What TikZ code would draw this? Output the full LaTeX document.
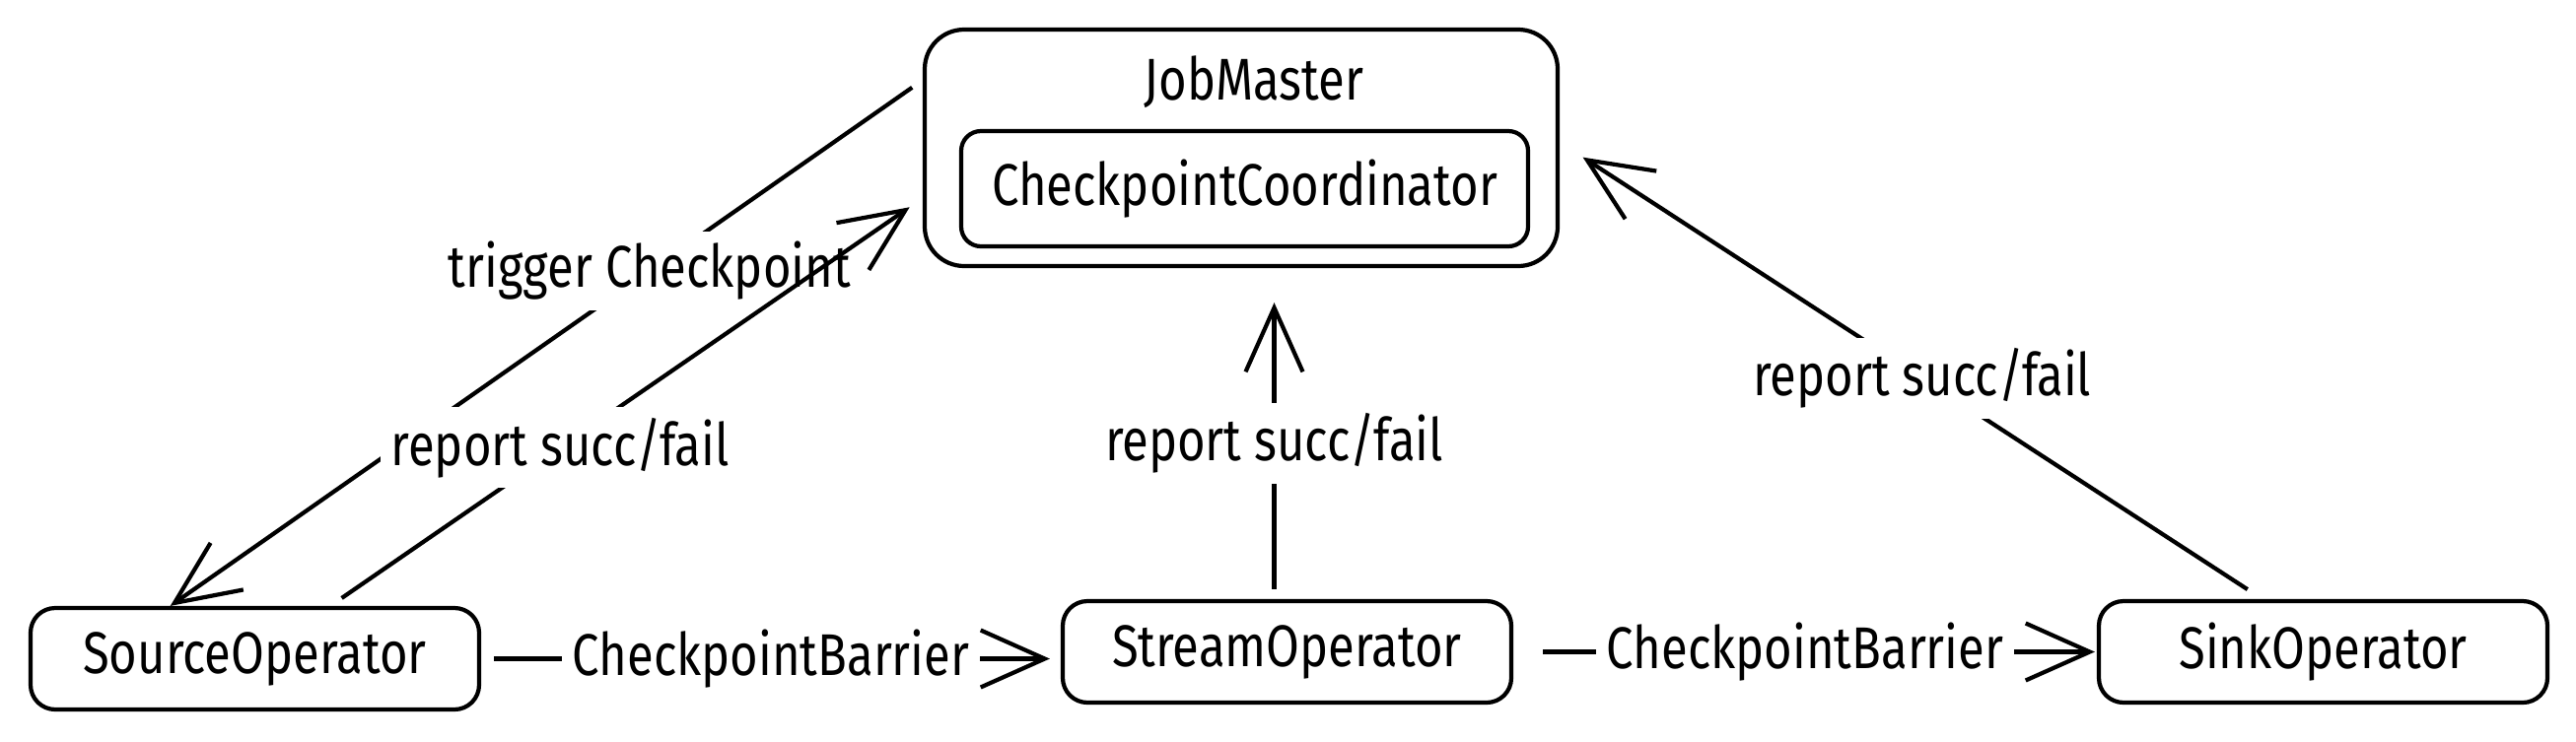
\documentclass[tikz,border=0pt]{standalone}
\usepackage{fontspec}
\setmainfont[FakeStretch=0.82]{Fira Sans}
\usetikzlibrary{arrows.meta}

\begin{document}
\begin{tikzpicture}[
    opbox/.style={draw, line width=1.2pt, rounded corners=0.25cm, minimum width=4.55cm, minimum height=1.03cm, font=\fontsize{17}{20}\selectfont},
    flow/.style={line width=1.2pt, -{Straight Barb[length=0.65cm, width=0.58cm, line width=1.2pt]}},
    lbl/.style={fill=white, inner sep=3pt, font=\fontsize{17}{20}\selectfont}
]

    % Fix the size of the page
    \useasboundingbox (0,0) rectangle (26.13,7.52);

    % JobMaster with the coordinator inside
    \node[draw, line width=1.2pt, rounded corners=0.4cm, minimum width=6.42cm, minimum height=2.40cm] (jobmaster) at (12.59,6.02) {};
    \node[font=\fontsize{17}{20}\selectfont] (jmtitle) at (12.72,6.69) {JobMaster};
    \node[opbox, rounded corners=0.2cm, minimum width=5.75cm, minimum height=1.17cm] (coord) at (12.625,5.605) {CheckpointCoordinator};

    % The three operators
    \node[opbox] (source) at (2.585,0.835) {SourceOperator};
    \node[opbox] (stream) at (13.055,0.905) {StreamOperator};
    \node[opbox] (sink) at (23.565,0.905) {SinkOperator};

    % Trigger goes down to the source
    \draw[flow, shorten <=0.13cm] (jobmaster.168) -- node[lbl, pos=0.363] {trigger Checkpoint} (source.148);

    % Reports go back up
    \draw[flow, shorten <=0.14cm, shorten >=0.16cm] (source.35) -- node[lbl, pos=0.388] {report succ/fail} (jobmaster.189);
    \draw[flow, shorten <=0.1cm, shorten >=0.35cm] ([xshift=-0.13cm]stream.north) -- node[lbl, pos=0.47] {report succ/fail} ([xshift=-0.13cm]stream.north |- jobmaster.south);
    \draw[flow, shorten <=0.18cm, shorten >=0.28cm] (sink.139) -- node[lbl, pos=0.484] {report succ/fail} (jobmaster.1);

    % Barriers flow along the operators
    \draw[flow, shorten <=0.13cm, shorten >=0.11cm] (source.east) -- node[lbl] {CheckpointBarrier} (source.east -| stream.west);
    \draw[flow, shorten <=0.3cm, shorten >=0.02cm] (stream.east) -- node[lbl] {CheckpointBarrier} (sink.west);

\end{tikzpicture}
\end{document}
